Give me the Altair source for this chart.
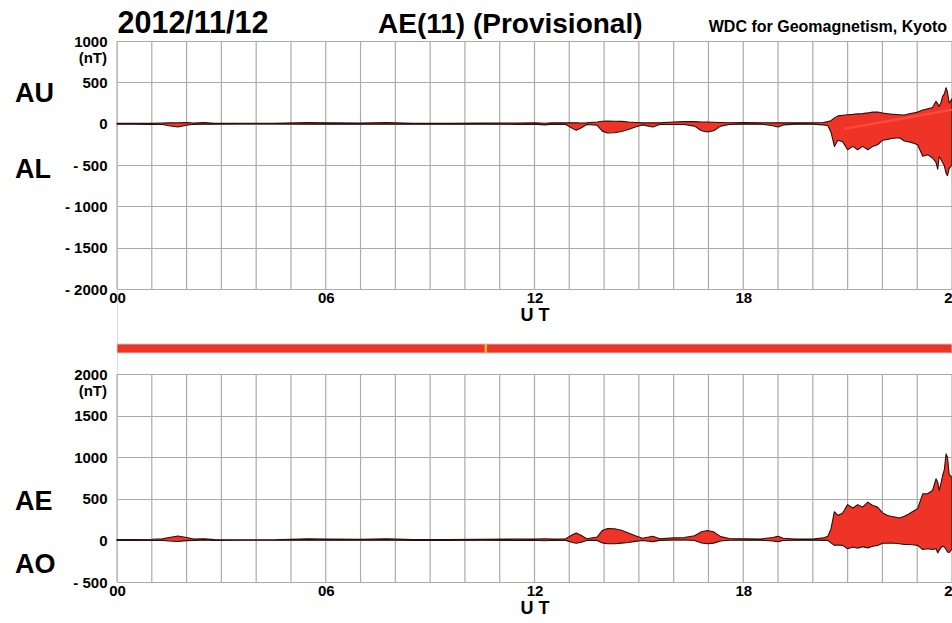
import altair as alt
import pandas as pd

# ---------------- data ----------------
hours = [0.0, 0.5, 1.0, 1.3, 1.5, 1.75, 2.0, 2.2, 2.5, 2.8,
         3.5, 4.5, 5.5, 6.0, 7.0, 7.75, 8.5, 9.5, 10.5, 11.5,
         12.0, 12.3, 12.5, 12.9, 13.1, 13.2, 13.35, 13.5, 13.8, 13.95,
         14.1, 14.3, 14.5, 14.7, 14.9, 15.1, 15.4, 15.6, 16.0, 16.3,
         16.6, 16.8, 16.97, 17.15, 17.35, 17.6, 18.0, 18.5, 18.85, 19.0,
         19.15, 19.5, 20.0, 20.3, 20.43, 20.52, 20.62, 20.72, 20.86, 21.0,
         21.15, 21.29, 21.43, 21.58, 21.72, 21.86, 22.01, 22.15, 22.25, 22.49,
         22.63, 22.77, 22.92, 23.01, 23.16, 23.3, 23.44, 23.54, 23.59, 23.63,
         23.68, 23.73, 23.78, 23.83, 23.87, 23.92, 24.0]

au = [5, 5, 5, 8, 10, 12, 15, 8, 15, 5,
      5, 5, 15, 10, 8, 15, 5, 5, 8, 8,
      10, 5, 10, 10, 10, 10, 8, 10, 20, 30,
      31, 30, 28, 20, 15, 10, 10, 10, 20, 25,
      25, 20, 20, 18, 15, 12, 15, 12, 10, 10,
      10, 10, 12, 15, 25, 35, 70, 94, 102, 108,
      112, 118, 122, 130, 140, 142, 128, 120, 115, 108,
      105, 120, 133, 140, 165, 180, 195, 270, 240, 210,
      250, 330, 360, 435, 380, 250, 300]

al = [-5, -5, -8, -10, -25, -40, -20, -8, -5, -5,
      -3, -3, -5, -5, -5, -5, -5, -5, -5, -8,
      -5, -15, -5, -10, -60, -80, -50, -10, -20, -90,
      -112, -110, -95, -70, -40, -15, -40, -10, -10, -10,
      -30, -85, -100, -85, -30, -10, -5, -5, -25, -40,
      -15, -5, -5, -15, -23, -100, -275, -200, -220, -315,
      -275, -315, -275, -315, -275, -255, -200, -190, -180, -170,
      -210, -220, -240, -255, -395, -375, -415, -470, -550, -400,
      -430, -470, -510, -600, -630, -540, -500]

ae = [10, 10, 13, 18, 35, 52, 35, 16, 20, 10,
      8, 8, 20, 15, 13, 20, 10, 10, 13, 16,
      15, 20, 15, 20, 70, 90, 58, 20, 40, 120,
      143, 140, 123, 90, 55, 25, 50, 20, 30, 35,
      55, 105, 120, 103, 45, 22, 20, 17, 35, 50,
      25, 15, 17, 30, 50, 135, 345, 300, 330, 430,
      390, 430, 400, 460, 420, 400, 330, 300, 290, 270,
      290, 320, 360, 380, 560, 560, 600, 740, 700, 600,
      680, 780, 850, 1040, 1000, 790, 760]

ao = [0, 0, -1, -1, -8, -14, -3, 0, 5, 0,
      1, 1, 5, 2, 1, 5, 0, 0, 1, 0,
      2, -5, 2, 0, -25, -35, -21, 0, 0, -30,
      -40, -40, -33, -25, -12, -2, -15, 0, 5, 7,
      -2, -32, -40, -33, -7, 1, 5, 3, -7, -15,
      -2, 2, 3, 0, 0, -30, -60, -55, -60, -100,
      -80, -95, -75, -90, -70, -60, -35, -35, -32, -40,
      -50, -50, -55, -60, -110, -100, -110, -100, -150, -120,
      -90, -70, -80, -110, -140, -145, -100]

ao_line_hours = [20.9, 24.0]
ao_line_vals = [-63, 170]

grid_hours = list(range(0, 25))
top_ticks = [-2000, -1500, -1000, -500, 0, 500, 1000]
bot_ticks = [-500, 0, 500, 1000, 1500, 2000]
x_ticks = [0, 6, 12, 18, 24]

flag_hours = [10.6]

panel_labels_top = ["AU", "AL"]
panel_label_top_pos = [264, -656]
panel_labels_bot = ["AE", "AO"]
panel_label_bot_pos = [369, -393]

# ---------------- styling ----------------
W, H = 835, 541
FONT = "Liberation Sans"
RED = "#ee3426"
DARK = "#2a0f0f"
GRID = "#ababab"
LINE_RED = "#ff4a3c"

x_dom = [0, 24]
top_scale = alt.Scale(domain=[-2000, 1000], range=[248, 0], nice=False, zero=False)
bot_scale = alt.Scale(domain=[-500, 2000], range=[541, 333], nice=False, zero=False)
bar_scale = alt.Scale(domain=[0, 1], range=[312, 303], nice=False, zero=False)


def xs():
    return alt.Scale(domain=x_dom, nice=False, zero=False)


def x_axis(offset):
    return alt.Axis(values=x_ticks,
                    labelExpr="datum.value < 10 ? '0' + datum.value : '' + datum.value",
                    orient="bottom", offset=offset, grid=False, domain=False, ticks=False,
                    labelFont=FONT, labelFontWeight="bold", labelFontSize=15, labelColor="black",
                    labelPadding=1, labelFlush=False, labelOverlap=False,
                    title="U T", titleFont=FONT, titleFontWeight="bold", titleFontSize=18,
                    titleColor="black", titlePadding=1)


def y_axis(values):
    return alt.Axis(values=values, orient="left", grid=True, gridColor=GRID, gridWidth=1.2,
                    gridOpacity=1, domain=False, ticks=False,
                    labelFont=FONT, labelFontWeight="bold", labelFontSize=15, labelColor="black",
                    labelPadding=10, labelOverlap=False, labelFlush=False,
                    labelExpr="datum.value < 0 ? '- ' + (-datum.value) : '' + datum.value",
                    title=None)


df = pd.DataFrame({"hour": hours, "au": au, "al": al, "ae": ae, "ao": ao})
vgrid_top = pd.DataFrame({"hour": grid_hours, "lo": [top_ticks[0]] * len(grid_hours),
                          "hi": [top_ticks[-1]] * len(grid_hours)})
vgrid_bot = pd.DataFrame({"hour": grid_hours, "lo": [bot_ticks[0]] * len(grid_hours),
                          "hi": [bot_ticks[-1]] * len(grid_hours)})
ao_line = pd.DataFrame({"hour": ao_line_hours, "v": ao_line_vals})
bar_df = pd.DataFrame({"h0": [x_dom[0]], "h1": [x_dom[1]], "b0": [0], "b1": [1]})
flag_df = pd.DataFrame({"hour": flag_hours, "b0": [0], "b1": [1]})
lab_top = pd.DataFrame({"label": panel_labels_top, "v": panel_label_top_pos})
lab_bot = pd.DataFrame({"label": panel_labels_bot, "v": panel_label_bot_pos})
nt_top = pd.DataFrame({"label": ["(nT)"], "v": [top_ticks[-1]]})
nt_bot = pd.DataFrame({"label": ["(nT)"], "v": [bot_ticks[-1]]})

# ---------------- layers ----------------
top_vgrid = alt.Chart(vgrid_top).mark_rule(color=GRID, strokeWidth=1.2).encode(
    x=alt.X("hour:Q", scale=xs(), axis=None),
    y=alt.Y("lo:Q", scale=top_scale, axis=None), y2="hi:Q")

top_area = alt.Chart(df).mark_area(fill=RED, stroke=DARK, strokeWidth=1.1,
                                   strokeJoin="round").encode(
    x=alt.X("hour:Q", scale=xs(), axis=x_axis(-(541 - 248))),
    y=alt.Y("au:Q", scale=top_scale, axis=y_axis(top_ticks)), y2="al:Q")

top_line = alt.Chart(ao_line).mark_line(color=LINE_RED, strokeWidth=2.5).encode(
    x=alt.X("hour:Q", scale=xs(), axis=None),
    y=alt.Y("v:Q", scale=top_scale, axis=None))

bot_vgrid = alt.Chart(vgrid_bot).mark_rule(color=GRID, strokeWidth=1.2).encode(
    x=alt.X("hour:Q", scale=xs(), axis=None),
    y=alt.Y("lo:Q", scale=bot_scale, axis=None), y2="hi:Q")

bot_area = alt.Chart(df).mark_area(fill=RED, stroke=DARK, strokeWidth=1.1,
                                   strokeJoin="round").encode(
    x=alt.X("hour:Q", scale=xs(), axis=x_axis(0)),
    y=alt.Y("ae:Q", scale=bot_scale, axis=y_axis(bot_ticks)), y2="ao:Q")

bar = alt.Chart(bar_df).mark_rect(color=RED, stroke="#c8c8c8", strokeWidth=1).encode(
    x=alt.X("h0:Q", scale=xs(), axis=None), x2="h1:Q",
    y=alt.Y("b0:Q", scale=bar_scale, axis=None), y2="b1:Q")

flag = alt.Chart(flag_df).mark_rule(color="#f5b22e", strokeWidth=2.5).encode(
    x=alt.X("hour:Q", scale=xs(), axis=None),
    y=alt.Y("b0:Q", scale=bar_scale, axis=None), y2="b1:Q")

name_top = alt.Chart(lab_top).mark_text(align="left", baseline="alphabetic", font=FONT,
                                        fontSize=27, fontWeight="bold", color="black").encode(
    x=alt.value(-102), y=alt.Y("v:Q", scale=top_scale, axis=None), text="label:N")

name_bot = alt.Chart(lab_bot).mark_text(align="left", baseline="alphabetic", font=FONT,
                                        fontSize=27, fontWeight="bold", color="black").encode(
    x=alt.value(-102), y=alt.Y("v:Q", scale=bot_scale, axis=None), text="label:N")

ntt = alt.Chart(nt_top).mark_text(align="right", baseline="middle", font=FONT, dy=17,
                                  fontSize=15, fontWeight="bold", color="black").encode(
    x=alt.value(-10), y=alt.Y("v:Q", scale=top_scale, axis=None), text="label:N")

ntb = alt.Chart(nt_bot).mark_text(align="right", baseline="middle", font=FONT, dy=17,
                                  fontSize=15, fontWeight="bold", color="black").encode(
    x=alt.value(-10), y=alt.Y("v:Q", scale=bot_scale, axis=None), text="label:N")

hdr_date = alt.Chart(pd.DataFrame({"t": ["2012/11/12"]})).mark_text(
    align="left", baseline="alphabetic", font=FONT, fontSize=30.5, fontWeight="bold",
    color="black").encode(x=alt.value(0.5), y=alt.value(-8), text="t:N")

hdr_title = alt.Chart(pd.DataFrame({"t": ["AE(11) (Provisional)"]})).mark_text(
    align="left", baseline="alphabetic", font=FONT, fontSize=28, fontWeight="bold",
    color="black").encode(x=alt.value(261), y=alt.value(-8), text="t:N")

hdr_wdc = alt.Chart(pd.DataFrame({"t": ["WDC for Geomagnetism, Kyoto"]})).mark_text(
    align="right", baseline="alphabetic", font=FONT, fontSize=16, fontWeight="bold",
    color="black").encode(x=alt.value(830), y=alt.value(-9), text="t:N")

chart = alt.layer(
    top_vgrid, top_area, top_line,
    bot_vgrid, bot_area,
    bar, flag,
    name_top, name_bot, ntt, ntb,
    hdr_date, hdr_title, hdr_wdc,
).resolve_scale(x="independent", y="independent").resolve_axis(
    x="independent", y="independent"
).properties(
    width=W, height=H,
    autosize=alt.AutoSizeParams(type="none"),
    padding={"left": 117, "top": 41, "right": 0, "bottom": 41},
).configure_view(stroke=None).configure(background="white")

chart.save("out.html", embed_options={"renderer": "svg", "actions": False})
